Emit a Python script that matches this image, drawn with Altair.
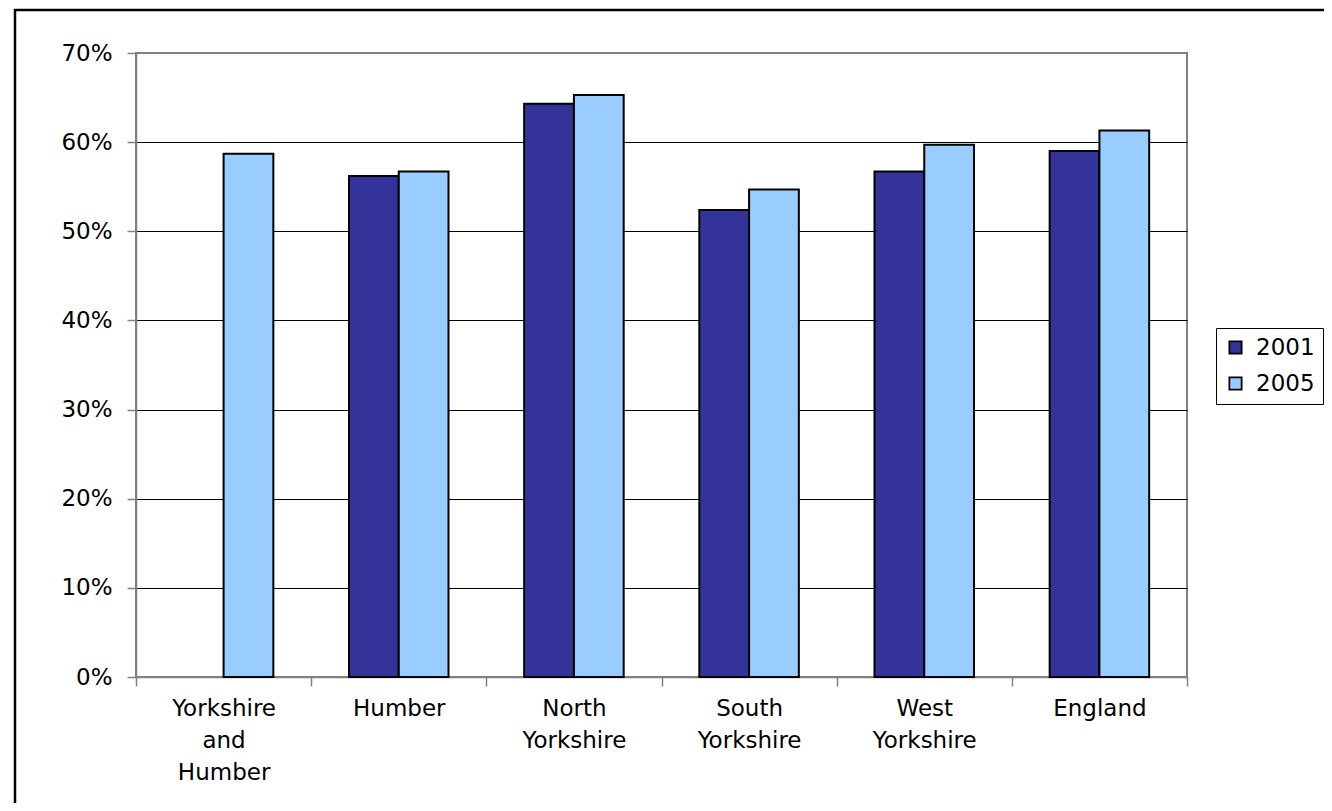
import altair as alt
import pandas as pd

categories = ["Yorkshire and Humber", "Humber", "North Yorkshire",
              "South Yorkshire", "West Yorkshire", "England"]
years = ["2001", "2005"]
values_2001 = [None, 56.2, 64.3, 52.4, 56.7, 59.0]
values_2005 = [58.7, 56.7, 65.3, 54.7, 59.7, 61.3]
y_ticks = [0, 10, 20, 30, 40, 50, 60, 70]
colors = ["#333399", "#99CCFF"]

rows = []
for c, a, b in zip(categories, values_2001, values_2005):
    rows.append({"region": c, "year": "2001", "value": a})
    rows.append({"region": c, "year": "2005", "value": b})
df = pd.DataFrame(rows)

FONT = "DejaVu Sans"
FS = 23

bars = alt.Chart(df).mark_bar(stroke="black", strokeWidth=2).encode(
    x=alt.X("region:N", sort=categories, title=None,
            scale=alt.Scale(paddingInner=0, paddingOuter=0),
            axis=alt.Axis(labelAngle=0, labelFontSize=FS, labelLineHeight=32,
                          labelFont=FONT, labelColor="black",
                          labelExpr="split(datum.label, ' ')",
                          tickBand="extent", tickSize=9, tickColor="#808080",
                          tickWidth=1.5, domainColor="#808080", domainWidth=1.5,
                          labelPadding=11, grid=False)),
    xOffset=alt.XOffset("year:N", sort=years,
                        scale=alt.Scale(paddingInner=0, paddingOuter=0.76)),
    y=alt.Y("value:Q", title=None,
            scale=alt.Scale(domain=[0, 70], nice=False, zero=True),
            axis=alt.Axis(values=y_ticks, labelExpr="datum.value + '%'",
                          labelFontSize=FS, labelFont=FONT, labelColor="black",
                          tickSize=9, tickColor="#808080", tickWidth=1.5,
                          domainColor="#808080", domainWidth=1.5,
                          labelPadding=15,
                          grid=True, gridWidth=1.2,
                          gridColor={"condition": {"test": "datum.value == 0 || datum.value == 70",
                                                   "value": "transparent"},
                                     "value": "black"})),
    color=alt.Color("year:N", sort=years,
                    scale=alt.Scale(domain=years, range=colors),
                    legend=alt.Legend(title=None, orient="none", legendX=1080, legendY=275,
                                      symbolType="square", symbolSize=150,
                                      symbolStrokeColor="black", symbolStrokeWidth=1.8,
                                      labelFontSize=FS, labelFont=FONT, labelColor="black",
                                      strokeColor="black", padding=8, rowPadding=12,
                                      labelOffset=9)),
)

frame = alt.Chart(pd.DataFrame({"frame": [0]})).mark_rect(
    fill="transparent", stroke="black", strokeWidth=2.5
).encode(
    x=alt.value(-121), x2=alt.value(1300), y=alt.value(-43), y2=alt.value(820)
)

chart = alt.layer(frame, bars).properties(
    width=1051, height=624,
    autosize=alt.AutoSizeParams(type="none"),
    padding={"left": 128, "top": 45, "right": 137, "bottom": 126},
    background="white",
).configure_view(stroke="#808080", strokeWidth=2)

chart.save("out.html", embed_options={"renderer": "svg", "actions": False})
